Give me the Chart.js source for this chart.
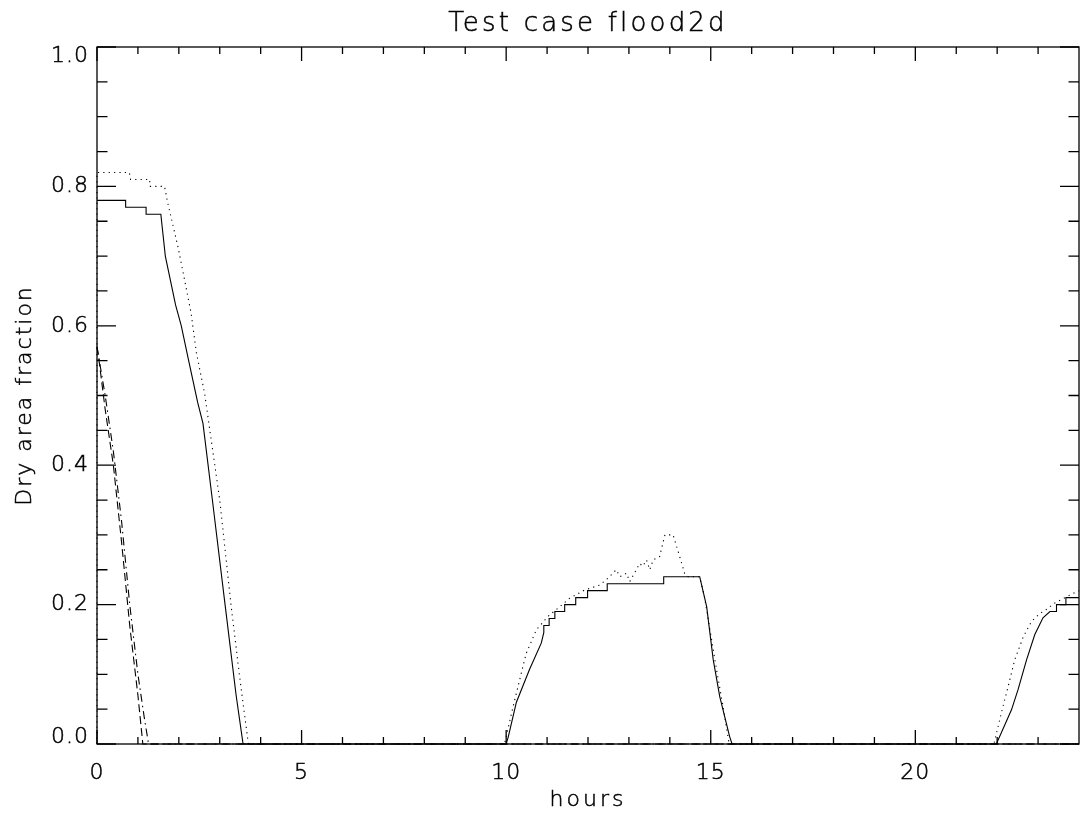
<!DOCTYPE html>
<html>
<head>
<meta charset="utf-8">
<title>Test case flood2d</title>
<script src="https://cdn.jsdelivr.net/npm/chart.js@4.4.1/dist/chart.umd.min.js"></script>
<style>
  html, body { margin: 0; padding: 0; background: #fff; }
  #wrap { width: 1088px; height: 817px; position: relative; }
</style>
</head>
<body>
<div id="wrap"><canvas id="flood"></canvas></div>
<script>
// Dry area fraction vs time (hours), four runs
const solidHours = [0, 0.70, 0.70, 1.20, 1.20, 1.56, 1.67, 1.92, 2.06, 2.24, 2.46, 2.59, 2.82, 3.13, 3.40, 3.57,
  10.0, 10.05, 10.25, 10.57, 10.86, 10.92, 10.92, 11.05, 11.05, 11.19, 11.19, 11.43, 11.43, 11.70, 11.70, 11.99, 11.99, 12.47, 12.47, 13.85, 13.85, 14.73,
  14.90, 15.06, 15.22, 15.46, 15.52,
  21.98, 22.35, 22.51, 22.72, 22.92, 23.12, 23.29, 23.45, 23.45, 23.68, 23.68, 24];
const solidFrac = [0.78, 0.78, 0.77, 0.77, 0.76, 0.76, 0.70, 0.63, 0.60, 0.55, 0.49, 0.46, 0.35, 0.20, 0.07, 0.0,
  0, 0.01, 0.06, 0.107, 0.145, 0.16, 0.17, 0.17, 0.18, 0.18, 0.19, 0.19, 0.20, 0.20, 0.21, 0.21, 0.22, 0.22, 0.23, 0.23, 0.24, 0.24,
  0.197, 0.121, 0.068, 0.011, 0,
  0, 0.049, 0.078, 0.121, 0.157, 0.181, 0.19, 0.19, 0.20, 0.20, 0.21, 0.21];

const dottedHours = [0, 0, 0.79, 0.82, 1.29, 1.29, 1.65, 1.73, 1.98, 2.14, 2.30, 2.43, 2.63, 3.0, 3.28, 3.5, 3.70,
  9.96, 10.17, 10.33, 10.49, 10.74, 11.02, 11.31, 11.55, 11.92, 12.29, 12.49, 12.69, 12.78, 12.94, 13.02, 13.18, 13.26, 13.34, 13.43, 13.51, 13.59, 13.75,
  13.88, 14.08, 14.24, 14.37, 14.45, 14.73, 14.85, 14.98, 15.14, 15.30, 15.45,
  21.92, 22.10, 22.27, 22.43, 22.64, 22.84, 23.04, 23.20, 23.40, 23.85, 24];
const dottedFrac = [0, 0.82, 0.82, 0.81, 0.81, 0.80, 0.80, 0.776, 0.713, 0.666, 0.618, 0.561, 0.503, 0.35, 0.197, 0.09, 0,
  0, 0.054, 0.092, 0.13, 0.164, 0.183, 0.197, 0.209, 0.221, 0.228, 0.238, 0.25, 0.24, 0.245, 0.233, 0.25, 0.259, 0.255, 0.264, 0.25, 0.264, 0.269,
  0.30, 0.30, 0.269, 0.243, 0.24, 0.24, 0.21, 0.164, 0.107, 0.054, 0,
  0, 0.044, 0.083, 0.121, 0.154, 0.176, 0.187, 0.193, 0.202, 0.216, 0.22];

const dashHours = [0, 0.05, 0.2, 0.4, 0.6, 0.8, 1.0, 1.12, 24];
const dashFrac = [0.57, 0.55, 0.48, 0.40, 0.29, 0.17, 0.07, 0, 0];

const dashDotHours = [0, 0.2, 0.4, 0.6, 0.8, 1.0, 1.15, 1.26, 24];
const dashDotFrac = [0.57, 0.50, 0.42, 0.32, 0.20, 0.10, 0.04, 0, 0];

// axis ticks
const xMajor = [0, 5, 10, 15, 20];
const xMinor = [1, 2, 3, 4, 6, 7, 8, 9, 11, 12, 13, 14, 16, 17, 18, 19, 21, 22, 23];
const yMajor = [0.0, 0.2, 0.4, 0.6, 0.8, 1.0];
const yMinor = [0.05, 0.1, 0.15, 0.25, 0.3, 0.35, 0.45, 0.5, 0.55, 0.65, 0.7, 0.75, 0.85, 0.9, 0.95];

const titleText = 'Test case flood2d';
const xTitle = 'hours';
const yTitle = 'Dry area fraction';

const FONT = '"DejaVu Sans"';

function pts(xs, ys) {
  return xs.map((x, i) => ({ x: x, y: ys[i] }));
}

function series(xs, ys, dash) {
  return {
    data: pts(xs, ys),
    borderColor: '#000',
    borderWidth: 1.1,
    borderDash: dash,
    pointRadius: 0,
    tension: 0,
    fill: false,
    clip: 4
  };
}

// thin font with a light outline so strokes read like plotter text
function label(ctx, text, x, y) {
  ctx.fillText(text, x, y);
  ctx.strokeText(text, x, y);
}

// IDL style box: frame, inward ticks on all four sides, labels and titles
const idlFrame = {
  id: 'idlFrame',
  afterDraw(chart) {
    const ctx = chart.ctx;
    const a = chart.chartArea;
    const xs = chart.scales.x, ys = chart.scales.y;
    ctx.save();
    ctx.strokeStyle = '#000';
    ctx.lineWidth = 1.3;
    ctx.strokeRect(a.left, a.top, a.right - a.left, a.bottom - a.top);

    ctx.beginPath();
    const xTick = (v, len) => {
      const px = xs.getPixelForValue(v);
      ctx.moveTo(px, a.bottom); ctx.lineTo(px, a.bottom - len);
      ctx.moveTo(px, a.top); ctx.lineTo(px, a.top + len);
    };
    const yTick = (v, len) => {
      const py = ys.getPixelForValue(v);
      ctx.moveTo(a.left, py); ctx.lineTo(a.left + len, py);
      ctx.moveTo(a.right, py); ctx.lineTo(a.right - len, py);
    };
    xMajor.forEach(v => xTick(v, 14));
    xMinor.forEach(v => xTick(v, 7));
    yMajor.forEach(v => yTick(v, 19));
    yMinor.forEach(v => yTick(v, 10.5));
    ctx.stroke();

    ctx.fillStyle = '#000';
    ctx.lineWidth = 0.5;
    ctx.font = '200 22px ' + FONT;
    ctx.letterSpacing = '1px';
    ctx.textBaseline = 'middle';
    ctx.textAlign = 'center';
    xMajor.forEach(v => {
      label(ctx, String(v), xs.getPixelForValue(v), a.bottom + 29);
    });
    ctx.textAlign = 'right';
    yMajor.forEach(v => {
      let py = ys.getPixelForValue(v);
      py = Math.min(Math.max(py, a.top + 9), a.bottom - 7);
      label(ctx, v.toFixed(1), a.left - 8, py);
    });

    // titles
    ctx.textBaseline = 'alphabetic';
    ctx.textAlign = 'center';
    ctx.font = '200 26px ' + FONT;
    ctx.letterSpacing = '3.2px';
    label(ctx, titleText, (a.left + a.right) / 2, 31);

    ctx.font = '200 22px ' + FONT;
    ctx.letterSpacing = '3px';
    label(ctx, xTitle, (a.left + a.right) / 2, 806);

    ctx.letterSpacing = '2px';
    ctx.translate(31, (a.top + a.bottom) / 2);
    ctx.rotate(-Math.PI / 2);
    label(ctx, yTitle, 0, 0);
    ctx.restore();
  }
};

new Chart(document.getElementById('flood'), {
  type: 'line',
  data: {
    datasets: [
      series(solidHours, solidFrac, []),
      series(dottedHours, dottedFrac, [1.2, 4.2]),
      series(dashHours, dashFrac, [8, 4]),
      series(dashDotHours, dashDotFrac, [8, 4, 1.5, 4])
    ]
  },
  options: {
    responsive: true,
    maintainAspectRatio: false,
    animation: false,
    layout: { padding: { left: 0, top: 47, right: 9, bottom: 0 } },
    plugins: { legend: { display: false }, tooltip: { enabled: false }, title: { display: false } },
    scales: {
      x: {
        type: 'linear', min: 0, max: 24,
        grid: { display: false }, border: { display: false },
        ticks: { display: false },
        afterFit(scale) { scale.height = 73; }
      },
      y: {
        type: 'linear', min: 0, max: 1,
        grid: { display: false }, border: { display: false },
        ticks: { display: false },
        afterFit(scale) { scale.width = 97; }
      }
    }
  },
  plugins: [idlFrame]
});
</script>
</body>
</html>
